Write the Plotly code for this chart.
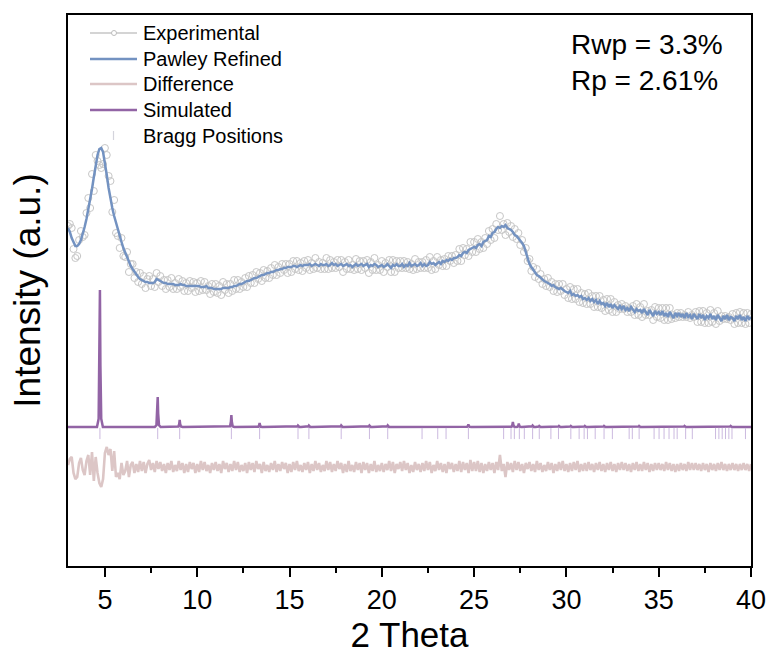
import numpy as np
import plotly.graph_objects as go

# ---------------- data ----------------
two_theta = np.round(np.linspace(3.0, 40.0, 371), 2)

pawley_refined = np.array([
    338,334,328,323,320,320,322,326,332,339,
    347,356,366,377,389,401,411,417,418,414,
    404,391,378,367,358,350,343,336,330,324,
    318,313,308,304,300,297,294,291,289,287,
    286,285,284,284,283,283,283,284,287,286,
    285,284,283,283,282,282,282,282,281,281,
    281,282,281,281,280,280,280,280,280,280,
    280,280,279,279,279,280,278,278,278,277,
    277,277,277,277,278,278,278,278,279,279,
    280,280,281,282,282,283,284,285,285,286,
    287,288,288,289,290,291,291,292,293,293,
    294,294,295,296,296,297,297,298,298,299,
    299,299,300,300,299,300,301,300,301,301,
    301,302,300,301,302,301,300,302,301,301,
    302,300,301,303,301,302,300,301,302,300,
    301,302,300,301,299,301,302,300,301,302,
    300,301,302,299,301,300,302,301,299,300,
    301,299,300,302,300,298,301,300,302,300,
    300,302,299,301,300,303,300,301,302,300,
    301,303,300,302,300,301,304,302,303,301,
    303,304,302,305,304,306,305,307,306,308,
    308,309,311,310,313,314,313,316,317,318,
    319,318,321,322,320,324,325,326,330,329,
    333,334,337,339,338,340,339,341,338,337,
    336,334,331,330,328,325,323,320,314,307,
    302,299,296,294,291,290,288,287,285,284,
    283,282,280,281,279,278,277,278,276,275,
    274,273,275,271,272,270,271,269,270,267,
    268,266,268,265,267,264,266,262,265,262,
    263,260,263,259,262,258,261,259,257,260,
    257,260,256,258,255,259,256,254,257,255,
    256,253,257,254,251,256,253,250,255,252,
    254,251,255,250,253,249,254,251,248,253,
    250,253,249,252,248,253,249,251,247,252,
    250,247,252,248,251,246,250,248,252,247,
    250,246,251,248,245,250,247,251,246,249,
    248,245,250,247,251,246,249,245,250,247,
    249], dtype=float)

difference = np.array([
    2,8,10,-6,-12,-10,4,9,-3,-8,
    6,12,-8,15,-14,10,-6,-16,-20,-12,
    14,20,12,18,-4,16,-10,-6,-12,4,
    -8,-4,6,-10,2,5,-6,3,-5,6,
    -4,5,-6,3,7,-3,4,-5,6,-2,
    5,-4,3,-6,4,-3,6,-5,2,-4,
    6,-3,4,-6,3,-5,5,-2,4,-6,
    3,-5,6,-3,5,-4,2,-6,4,-3,
    5,-4,3,-6,6,-2,4,-5,3,-4,
    6,-3,5,-5,2,-4,4,-6,5,-3,
    4,-5,6,-2,3,-6,5,-4,2,-5,
    4,-3,6,-5,3,-4,5,-2,4,-6,
    3,-5,5,-3,6,-4,2,-5,4,-3,
    5,-6,3,-4,6,-3,4,-5,2,-4,
    6,-3,5,-5,3,-4,6,-2,4,-6,
    3,-5,6,-4,2,-5,5,-3,4,-6,
    5,-3,4,-6,3,-4,6,-5,2,-4,
    4,-5,3,-3,6,-4,5,-6,3,-2,
    5,-4,6,-3,4,-6,2,-5,5,-3,
    3,-5,4,-4,6,-3,5,-6,2,-4,
    6,-3,4,-5,3,-6,5,-2,4,-5,
    3,-4,6,-5,5,-3,4,-6,7,-4,
    5,-4,6,-5,4,-6,3,-4,5,-3,
    4,-6,5,-3,12,-4,3,-10,5,-3,
    4,-5,6,-3,5,-4,3,-6,4,-2,
    5,-4,3,-5,6,-3,4,-5,2,-4,
    5,-3,4,-6,3,-4,5,-3,6,-4,
    3,-5,4,-4,5,-3,6,-5,3,-4,
    4,-4,5,-3,3,-5,4,-3,5,-4,
    3,-5,4,-3,5,-4,3,-5,4,-3,
    5,-3,4,-4,3,-5,4,-3,5,-4,
    3,-4,5,-3,4,-5,3,-4,4,-3,
    4,-3,3,-4,5,-3,4,-4,3,-5,
    3,-4,4,-3,3,-4,5,-3,4,-3,
    4,-3,3,-4,4,-3,3,-5,4,-3,
    3,-4,4,-3,5,-3,3,-4,3,-3,
    4,-3,3,-4,3,-3,4,-3,3,-4,
    3], dtype=float)

experimental = pawley_refined + difference

sim_peak_pos = [4.73, 7.86, 9.05, 11.85, 13.38, 15.46, 16.05, 17.8, 19.33, 20.32,
                24.69, 27.1, 27.42, 28.17, 28.53, 29.6, 30.24, 31.0, 32.04, 33.94,
                36.4, 38.9]
sim_peak_int = [137, 30, 7, 12, 4, 1.5, 1.5, 1.5, 1.5, 1.5,
                2.5, 5, 3.5, 1.5, 1, 1, 1, 1, 1, 1,
                1, 1]

bragg_pos = [4.73, 7.86, 9.05, 11.85, 13.38, 15.46, 16.05, 17.8, 19.33, 20.32,
             22.18, 23.03, 23.48, 24.69, 26.6, 27.0, 27.18, 27.45, 27.72, 28.17,
             28.53, 29.16, 29.57, 30.24, 30.69, 30.96, 31.14, 31.56, 32.04, 32.49,
             33.4, 33.57, 33.94, 34.75, 35.02, 35.29, 35.56, 35.83, 36.0, 36.46,
             36.82, 38.08, 38.26, 38.44, 38.62, 38.8, 38.97, 39.7]

legend_names = ["Experimental", "Pawley Refined", "Difference", "Simulated", "Bragg Positions"]
r_labels = ["Rwp = 3.3%", "Rp = 2.61%"]

# ---------------- style constants ----------------
SIM_BASE = 139
DIFF_BASE = 99
BRAGG_Y = 132.5
FONT = "Liberation Sans, Arial, sans-serif"
C_EXP = "#c6c6c6"
C_PAW = "#7392c1"
C_DIF = "#dcc6c6"
C_SIM = "#9264a5"
C_BRG = "#cbb9df"

# simulated pattern polyline (narrow peak shapes on a flat baseline)
prof_dx = [-0.16, -0.07, -0.025, 0.0, 0.025, 0.07, 0.16]
prof_fr = [0.0, 0.06, 0.45, 1.0, 0.45, 0.06, 0.0]
sim_x = [3.0]
sim_y = [SIM_BASE]
for p, h in zip(sim_peak_pos, sim_peak_int):
    for dx, fr in zip(prof_dx, prof_fr):
        sim_x.append(p + dx)
        sim_y.append(SIM_BASE + h * fr)
sim_x.append(40.0)
sim_y.append(SIM_BASE)

fig = go.Figure()

fig.add_trace(go.Scatter(
    x=two_theta, y=experimental, mode="markers", name=legend_names[0], showlegend=False,
    marker=dict(symbol="circle-open", size=7, color=C_EXP, line=dict(width=1)),
))
fig.add_trace(go.Scatter(
    x=two_theta, y=pawley_refined, mode="lines", name=legend_names[1], showlegend=False,
    line=dict(color=C_PAW, width=2.5),
))
fig.add_trace(go.Scatter(
    x=two_theta, y=difference + DIFF_BASE, mode="lines", name=legend_names[2], showlegend=False,
    line=dict(color=C_DIF, width=2.6),
))
fig.add_trace(go.Scatter(
    x=sim_x, y=sim_y, mode="lines", name=legend_names[3], showlegend=False,
    line=dict(color=C_SIM, width=2.5),
))
fig.add_trace(go.Scatter(
    x=bragg_pos, y=[BRAGG_Y] * len(bragg_pos), mode="markers", name=legend_names[4],
    showlegend=False,
    marker=dict(symbol="line-ns", size=8, color=C_BRG, line=dict(color=C_BRG, width=1)),
))

# ---- manual legend (paper coordinates; plot area 68..751 x 15..566 px) ----
PW, PH, PL, PT = 683.0, 551.0, 68.0, 15.0
def px(xp):
    return (xp - PL) / PW
def py(yp):
    return 1 - (yp - PT) / PH

leg_rows = [33, 59, 84, 110, 136]
leg_colors = [C_EXP, C_PAW, C_DIF, C_SIM]
leg_widths = [1.5, 2.5, 2.5, 2.5]
for i, name in enumerate(legend_names):
    fig.add_annotation(x=px(141), y=py(leg_rows[i]), xref="paper", yref="paper",
                       text=name, showarrow=False, xanchor="left", yanchor="middle",
                       font=dict(size=20, color="black", family=FONT))
for i in range(4):
    fig.add_shape(type="line", xref="paper", yref="paper",
                  x0=px(90), x1=px(137), y0=py(leg_rows[i]), y1=py(leg_rows[i]),
                  line=dict(color=leg_colors[i], width=leg_widths[i]))
fig.add_shape(type="circle", xref="paper", yref="paper",
              x0=px(111.5), x1=px(116.5), y0=py(leg_rows[0] - 2.5), y1=py(leg_rows[0] + 2.5),
              line=dict(color="#bdbdbd", width=1), fillcolor="white")
fig.add_shape(type="line", xref="paper", yref="paper",
              x0=px(113.5), x1=px(113.5), y0=py(leg_rows[4] - 5), y1=py(leg_rows[4] + 4),
              line=dict(color="#d4d4dc", width=1.2))

fig.add_annotation(x=px(569), y=py(45), xref="paper", yref="paper", text=r_labels[0],
                   showarrow=False, xanchor="left", yanchor="middle",
                   font=dict(size=28, color="black", family=FONT))
fig.add_annotation(x=px(569), y=py(80), xref="paper", yref="paper", text=r_labels[1],
                   showarrow=False, xanchor="left", yanchor="middle",
                   font=dict(size=28, color="black", family=FONT))

fig.update_layout(
    width=772, height=663,
    margin=dict(l=68, r=21, t=15, b=97),
    paper_bgcolor="white", plot_bgcolor="white",
    font=dict(family=FONT, color="black"),
    showlegend=False,
    xaxis=dict(
        range=[3, 40], showgrid=False, zeroline=False, automargin=False,
        showline=True, linecolor="black", linewidth=2, mirror=True,
        ticks="outside", ticklen=9, tickwidth=1.5, tickcolor="black",
        tickvals=[5, 10, 15, 20, 25, 30, 35, 40],
        tickfont=dict(size=27, family=FONT),
        minor=dict(tickvals=[7.5, 12.5, 17.5, 22.5, 27.5, 32.5, 37.5],
                   ticks="outside", ticklen=5, tickwidth=1.5, tickcolor="black"),
        title=dict(text="2 Theta", font=dict(size=35, family=FONT), standoff=6),
    ),
    yaxis=dict(
        range=[0, 551], showgrid=False, zeroline=False, automargin=False,
        showline=True, linecolor="black", linewidth=2, mirror=True,
        ticks="", showticklabels=False,
        title=dict(text="Intensity (a.u.)", font=dict(size=37, family=FONT), standoff=14),
    ),
)

fig.write_html("out.html")
